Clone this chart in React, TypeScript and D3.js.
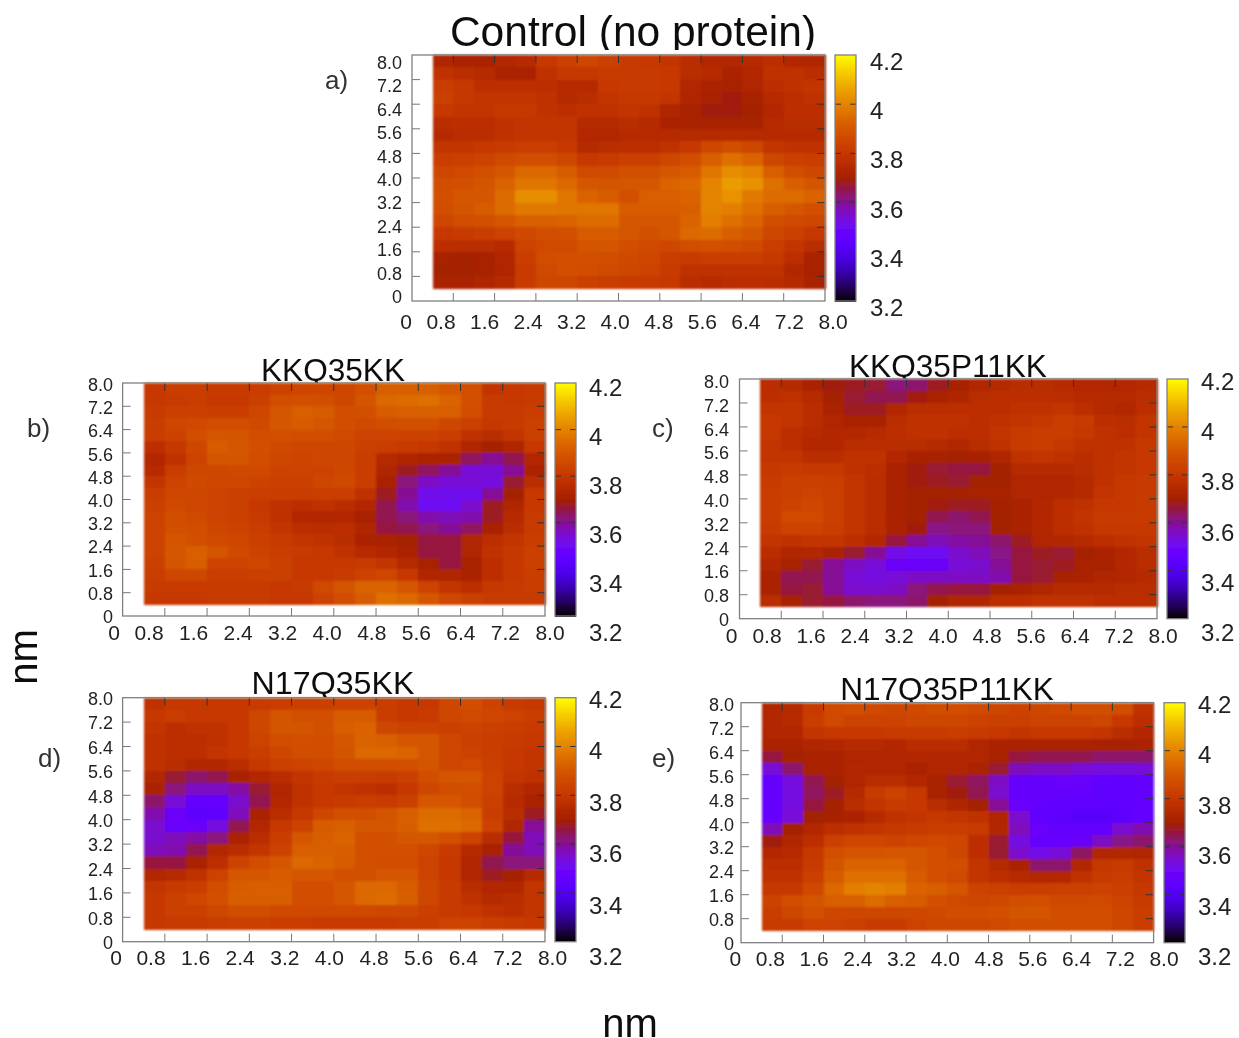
import React from "react";
import * as d3 from "d3";

// distance maps, rows run top (8.0 nm) to bottom (0.4 nm), columns 0.4 to 8.0 nm
const controlGrid = [
  [3.73,3.72,3.72,3.74,3.75,3.80,3.83,3.85,3.83,3.81,3.80,3.79,3.76,3.74,3.74,3.75,3.77,3.74,3.73],
  [3.78,3.76,3.75,3.72,3.72,3.78,3.80,3.80,3.81,3.81,3.81,3.80,3.76,3.75,3.72,3.74,3.78,3.78,3.76],
  [3.82,3.80,3.77,3.77,3.77,3.77,3.75,3.75,3.80,3.81,3.81,3.80,3.74,3.72,3.71,3.73,3.77,3.78,3.79],
  [3.83,3.80,3.79,3.79,3.79,3.78,3.75,3.76,3.79,3.80,3.80,3.79,3.73,3.71,3.69,3.71,3.75,3.77,3.78],
  [3.80,3.79,3.79,3.80,3.80,3.78,3.77,3.78,3.78,3.79,3.78,3.73,3.71,3.69,3.69,3.70,3.74,3.77,3.77],
  [3.76,3.77,3.77,3.78,3.79,3.79,3.79,3.75,3.75,3.76,3.75,3.72,3.71,3.71,3.71,3.71,3.75,3.76,3.76],
  [3.75,3.76,3.76,3.78,3.79,3.79,3.79,3.74,3.74,3.75,3.75,3.75,3.75,3.75,3.75,3.75,3.75,3.75,3.75],
  [3.79,3.79,3.80,3.81,3.82,3.82,3.80,3.75,3.76,3.77,3.77,3.78,3.80,3.85,3.87,3.85,3.79,3.78,3.78],
  [3.82,3.83,3.84,3.86,3.87,3.87,3.85,3.80,3.81,3.83,3.83,3.85,3.87,3.92,3.96,3.93,3.85,3.83,3.82],
  [3.85,3.86,3.88,3.90,3.94,3.94,3.91,3.86,3.86,3.88,3.88,3.90,3.91,3.97,4.02,4.00,3.92,3.87,3.85],
  [3.87,3.88,3.89,3.93,3.97,3.97,3.94,3.90,3.89,3.90,3.90,3.93,3.94,4.00,4.05,4.03,3.96,3.92,3.89],
  [3.88,3.90,3.90,3.95,4.02,4.02,3.97,3.93,3.91,3.88,3.92,3.92,3.93,4.00,4.03,3.98,3.95,3.95,3.93],
  [3.87,3.89,3.91,3.95,3.98,3.98,3.97,3.97,3.97,3.91,3.91,3.91,3.92,4.00,3.99,3.96,3.92,3.90,3.88],
  [3.85,3.87,3.88,3.90,3.92,3.92,3.93,3.95,3.95,3.90,3.90,3.90,3.93,3.99,3.96,3.93,3.87,3.86,3.85],
  [3.80,3.81,3.82,3.84,3.86,3.87,3.88,3.91,3.91,3.90,3.88,3.90,3.94,3.95,3.92,3.90,3.85,3.83,3.80],
  [3.77,3.76,3.76,3.75,3.84,3.86,3.86,3.89,3.89,3.87,3.86,3.85,3.87,3.88,3.87,3.86,3.82,3.79,3.76],
  [3.71,3.70,3.71,3.74,3.82,3.87,3.88,3.88,3.87,3.86,3.85,3.82,3.81,3.82,3.82,3.82,3.80,3.77,3.72],
  [3.70,3.70,3.71,3.73,3.81,3.86,3.88,3.87,3.86,3.85,3.84,3.81,3.78,3.78,3.78,3.78,3.78,3.74,3.71],
  [3.72,3.72,3.73,3.75,3.81,3.85,3.85,3.83,3.82,3.81,3.81,3.80,3.76,3.75,3.76,3.77,3.76,3.75,3.72],
];

const kkq35kkGrid = [
  [3.80,3.82,3.82,3.81,3.81,3.82,3.84,3.85,3.85,3.85,3.88,3.92,3.92,3.92,3.90,3.88,3.79,3.80,3.81],
  [3.80,3.81,3.82,3.80,3.80,3.83,3.87,3.88,3.87,3.85,3.89,3.94,3.95,3.96,3.93,3.88,3.81,3.80,3.81],
  [3.81,3.83,3.83,3.82,3.82,3.85,3.90,3.92,3.91,3.87,3.88,3.91,3.92,3.92,3.92,3.87,3.81,3.81,3.82],
  [3.82,3.85,3.86,3.87,3.87,3.86,3.90,3.91,3.90,3.87,3.86,3.87,3.88,3.88,3.85,3.83,3.80,3.81,3.83],
  [3.82,3.84,3.87,3.90,3.89,3.87,3.88,3.87,3.87,3.86,3.84,3.84,3.84,3.84,3.82,3.78,3.76,3.79,3.83],
  [3.77,3.80,3.85,3.91,3.90,3.88,3.86,3.85,3.85,3.85,3.83,3.82,3.81,3.80,3.78,3.73,3.70,3.73,3.80],
  [3.74,3.78,3.84,3.89,3.89,3.87,3.85,3.84,3.85,3.85,3.82,3.75,3.73,3.72,3.72,3.64,3.60,3.65,3.74],
  [3.75,3.82,3.85,3.85,3.86,3.86,3.84,3.84,3.84,3.85,3.82,3.73,3.68,3.64,3.60,3.54,3.54,3.60,3.72],
  [3.79,3.84,3.86,3.85,3.85,3.84,3.83,3.83,3.85,3.86,3.82,3.71,3.62,3.56,3.54,3.54,3.53,3.67,3.76],
  [3.82,3.85,3.85,3.84,3.83,3.82,3.82,3.82,3.82,3.82,3.78,3.68,3.60,3.51,3.51,3.51,3.60,3.70,3.80],
  [3.83,3.86,3.85,3.84,3.83,3.80,3.78,3.77,3.78,3.76,3.74,3.65,3.58,3.50,3.50,3.55,3.68,3.73,3.80],
  [3.84,3.87,3.86,3.84,3.83,3.81,3.78,3.74,3.74,3.74,3.71,3.65,3.62,3.58,3.57,3.58,3.68,3.75,3.81],
  [3.84,3.88,3.87,3.85,3.84,3.82,3.79,3.77,3.76,3.77,3.73,3.66,3.65,3.62,3.60,3.64,3.71,3.76,3.81],
  [3.84,3.89,3.88,3.86,3.85,3.83,3.81,3.79,3.78,3.76,3.72,3.72,3.70,3.66,3.66,3.73,3.77,3.79,3.82],
  [3.84,3.90,3.92,3.89,3.86,3.84,3.82,3.81,3.80,3.78,3.75,3.74,3.72,3.66,3.66,3.73,3.78,3.80,3.83],
  [3.83,3.89,3.92,3.84,3.84,3.85,3.83,3.80,3.80,3.80,3.81,3.79,3.75,3.71,3.66,3.71,3.77,3.80,3.83],
  [3.82,3.85,3.85,3.82,3.82,3.83,3.83,3.80,3.80,3.81,3.84,3.85,3.80,3.73,3.73,3.72,3.77,3.80,3.82],
  [3.81,3.81,3.81,3.81,3.81,3.81,3.80,3.81,3.86,3.89,3.93,3.93,3.90,3.84,3.79,3.77,3.80,3.81,3.82],
  [3.80,3.80,3.80,3.81,3.81,3.81,3.80,3.80,3.84,3.87,3.91,3.96,3.94,3.90,3.85,3.83,3.81,3.81,3.81],
];

const kkq35p11kkGrid = [
  [3.76,3.75,3.72,3.69,3.68,3.67,3.62,3.63,3.68,3.71,3.74,3.75,3.76,3.76,3.75,3.74,3.74,3.74,3.75],
  [3.77,3.78,3.75,3.70,3.67,3.65,3.65,3.69,3.72,3.73,3.76,3.77,3.77,3.77,3.76,3.75,3.75,3.75,3.76],
  [3.79,3.79,3.76,3.72,3.68,3.68,3.74,3.76,3.77,3.77,3.77,3.77,3.78,3.78,3.79,3.77,3.75,3.74,3.77],
  [3.80,3.79,3.76,3.73,3.71,3.71,3.76,3.78,3.78,3.78,3.77,3.78,3.79,3.80,3.82,3.81,3.77,3.76,3.79],
  [3.80,3.77,3.75,3.74,3.74,3.75,3.77,3.78,3.78,3.77,3.77,3.79,3.81,3.82,3.82,3.80,3.78,3.77,3.79],
  [3.79,3.77,3.74,3.74,3.76,3.76,3.76,3.76,3.75,3.74,3.76,3.78,3.81,3.82,3.80,3.78,3.78,3.78,3.80],
  [3.79,3.79,3.76,3.76,3.78,3.78,3.74,3.71,3.71,3.70,3.71,3.73,3.78,3.79,3.78,3.76,3.78,3.79,3.80],
  [3.80,3.81,3.80,3.80,3.78,3.77,3.72,3.69,3.67,3.66,3.66,3.70,3.75,3.75,3.75,3.76,3.78,3.79,3.80],
  [3.81,3.83,3.83,3.82,3.79,3.76,3.71,3.69,3.68,3.67,3.70,3.70,3.73,3.73,3.73,3.75,3.78,3.80,3.81],
  [3.82,3.83,3.84,3.83,3.79,3.76,3.71,3.70,3.70,3.70,3.71,3.71,3.73,3.73,3.74,3.75,3.79,3.80,3.81],
  [3.82,3.84,3.85,3.83,3.79,3.76,3.71,3.70,3.69,3.68,3.68,3.70,3.72,3.74,3.77,3.78,3.80,3.80,3.81],
  [3.82,3.86,3.86,3.83,3.79,3.76,3.72,3.70,3.65,3.63,3.65,3.70,3.72,3.74,3.77,3.79,3.81,3.81,3.81],
  [3.81,3.84,3.84,3.82,3.79,3.76,3.72,3.69,3.61,3.62,3.62,3.70,3.72,3.74,3.77,3.78,3.80,3.80,3.80],
  [3.79,3.78,3.79,3.79,3.77,3.74,3.66,3.60,3.57,3.59,3.60,3.63,3.68,3.73,3.74,3.75,3.77,3.78,3.79],
  [3.76,3.73,3.74,3.72,3.67,3.60,3.52,3.50,3.50,3.55,3.57,3.61,3.66,3.68,3.67,3.70,3.72,3.74,3.76],
  [3.74,3.71,3.67,3.60,3.56,3.54,3.49,3.48,3.49,3.54,3.55,3.60,3.66,3.67,3.68,3.71,3.71,3.74,3.76],
  [3.72,3.65,3.65,3.60,3.54,3.53,3.54,3.56,3.56,3.56,3.56,3.58,3.66,3.67,3.71,3.72,3.73,3.74,3.75],
  [3.72,3.66,3.67,3.60,3.55,3.55,3.56,3.62,3.65,3.66,3.66,3.70,3.72,3.73,3.75,3.75,3.75,3.76,3.76],
  [3.76,3.71,3.67,3.66,3.63,3.62,3.62,3.63,3.70,3.73,3.73,3.77,3.77,3.78,3.78,3.78,3.77,3.77,3.77],
];

const n17q35kkGrid = [
  [3.78,3.80,3.80,3.80,3.80,3.81,3.82,3.83,3.83,3.84,3.84,3.82,3.80,3.80,3.85,3.87,3.84,3.81,3.80],
  [3.80,3.82,3.80,3.80,3.80,3.85,3.89,3.88,3.88,3.91,3.91,3.82,3.80,3.81,3.85,3.86,3.85,3.84,3.82],
  [3.79,3.77,3.78,3.78,3.80,3.85,3.89,3.89,3.88,3.92,3.93,3.85,3.84,3.84,3.83,3.84,3.83,3.82,3.81],
  [3.78,3.77,3.77,3.78,3.80,3.84,3.87,3.88,3.87,3.90,3.93,3.92,3.90,3.90,3.85,3.83,3.82,3.81,3.80],
  [3.78,3.77,3.77,3.79,3.80,3.82,3.85,3.87,3.87,3.89,3.94,3.94,3.93,3.90,3.85,3.84,3.82,3.80,3.79],
  [3.78,3.76,3.74,3.74,3.76,3.80,3.83,3.84,3.85,3.87,3.87,3.87,3.88,3.89,3.85,3.86,3.83,3.80,3.79],
  [3.74,3.67,3.63,3.65,3.71,3.74,3.76,3.79,3.81,3.82,3.82,3.81,3.83,3.87,3.89,3.89,3.84,3.79,3.78],
  [3.72,3.62,3.56,3.56,3.59,3.67,3.73,3.78,3.80,3.79,3.78,3.77,3.80,3.85,3.87,3.88,3.84,3.76,3.73],
  [3.63,3.54,3.46,3.46,3.55,3.65,3.74,3.78,3.80,3.81,3.82,3.81,3.83,3.90,3.90,3.87,3.83,3.75,3.72],
  [3.58,3.49,3.44,3.45,3.57,3.72,3.76,3.80,3.85,3.88,3.87,3.89,3.92,3.95,3.95,3.93,3.82,3.76,3.68],
  [3.55,3.48,3.48,3.53,3.65,3.74,3.80,3.84,3.91,3.92,3.90,3.90,3.92,3.96,3.96,3.94,3.84,3.73,3.60],
  [3.55,3.57,3.59,3.62,3.72,3.76,3.82,3.90,3.92,3.93,3.88,3.88,3.90,3.90,3.88,3.84,3.76,3.66,3.57],
  [3.57,3.58,3.65,3.74,3.76,3.79,3.84,3.92,3.92,3.92,3.88,3.88,3.88,3.85,3.81,3.75,3.71,3.60,3.57],
  [3.66,3.66,3.72,3.77,3.84,3.87,3.90,3.94,3.93,3.91,3.88,3.87,3.87,3.84,3.80,3.73,3.65,3.62,3.62],
  [3.74,3.75,3.78,3.84,3.90,3.90,3.91,3.90,3.90,3.88,3.88,3.90,3.90,3.84,3.80,3.73,3.68,3.70,3.75],
  [3.79,3.81,3.82,3.87,3.91,3.92,3.92,3.87,3.87,3.90,3.94,3.94,3.91,3.85,3.81,3.76,3.74,3.74,3.79],
  [3.80,3.83,3.85,3.88,3.92,3.92,3.92,3.87,3.87,3.90,3.94,3.95,3.92,3.85,3.81,3.78,3.75,3.76,3.79],
  [3.80,3.83,3.83,3.85,3.87,3.87,3.86,3.86,3.86,3.86,3.86,3.85,3.85,3.83,3.81,3.80,3.78,3.77,3.79],
  [3.80,3.81,3.81,3.82,3.83,3.83,3.82,3.82,3.81,3.81,3.81,3.81,3.82,3.82,3.84,3.84,3.82,3.81,3.80],
];

const n17q35p11kkGrid = [
  [3.74,3.75,3.81,3.86,3.87,3.86,3.85,3.86,3.87,3.87,3.86,3.85,3.84,3.85,3.86,3.87,3.87,3.87,3.78],
  [3.74,3.75,3.82,3.86,3.84,3.84,3.84,3.85,3.85,3.85,3.84,3.83,3.83,3.84,3.84,3.84,3.85,3.80,3.77],
  [3.73,3.74,3.79,3.80,3.80,3.80,3.81,3.81,3.81,3.82,3.81,3.80,3.79,3.80,3.80,3.80,3.79,3.76,3.74],
  [3.72,3.72,3.73,3.74,3.75,3.75,3.74,3.76,3.76,3.76,3.73,3.72,3.72,3.72,3.72,3.72,3.71,3.71,3.72],
  [3.66,3.70,3.72,3.72,3.73,3.73,3.74,3.74,3.74,3.74,3.73,3.71,3.66,3.65,3.65,3.65,3.63,3.63,3.63],
  [3.54,3.63,3.71,3.72,3.74,3.73,3.73,3.72,3.73,3.73,3.72,3.67,3.57,3.56,3.56,3.54,3.53,3.53,3.54],
  [3.47,3.53,3.65,3.70,3.73,3.76,3.76,3.74,3.71,3.67,3.64,3.56,3.47,3.47,3.48,3.48,3.46,3.45,3.46],
  [3.47,3.53,3.64,3.68,3.75,3.81,3.84,3.80,3.71,3.69,3.65,3.55,3.47,3.47,3.47,3.46,3.45,3.45,3.46],
  [3.47,3.53,3.66,3.70,3.76,3.79,3.81,3.80,3.76,3.73,3.70,3.60,3.48,3.46,3.45,3.45,3.45,3.45,3.46],
  [3.47,3.54,3.70,3.71,3.72,3.75,3.78,3.79,3.80,3.79,3.78,3.73,3.55,3.45,3.44,3.42,3.42,3.44,3.46],
  [3.57,3.70,3.74,3.77,3.78,3.79,3.80,3.81,3.82,3.82,3.81,3.74,3.57,3.48,3.46,3.46,3.46,3.55,3.58],
  [3.69,3.73,3.77,3.83,3.85,3.85,3.84,3.85,3.86,3.85,3.77,3.67,3.53,3.47,3.47,3.49,3.56,3.61,3.63],
  [3.74,3.75,3.80,3.88,3.89,3.89,3.90,3.90,3.88,3.85,3.77,3.67,3.55,3.52,3.54,3.64,3.74,3.74,3.73],
  [3.77,3.77,3.81,3.89,3.93,3.93,3.93,3.90,3.88,3.87,3.79,3.75,3.72,3.63,3.63,3.74,3.80,3.81,3.78],
  [3.78,3.78,3.83,3.91,3.96,3.96,3.96,3.91,3.88,3.86,3.79,3.77,3.75,3.74,3.74,3.78,3.81,3.82,3.79],
  [3.80,3.80,3.86,3.94,3.99,4.00,3.99,3.93,3.92,3.89,3.84,3.83,3.82,3.82,3.83,3.83,3.84,3.83,3.80],
  [3.84,3.87,3.89,3.92,3.92,3.95,3.92,3.91,3.88,3.86,3.85,3.86,3.87,3.88,3.86,3.86,3.86,3.84,3.81],
  [3.82,3.85,3.88,3.85,3.85,3.85,3.85,3.85,3.86,3.87,3.87,3.88,3.89,3.89,3.87,3.87,3.87,3.85,3.82],
  [3.81,3.81,3.84,3.84,3.83,3.81,3.81,3.84,3.85,3.85,3.85,3.86,3.87,3.87,3.87,3.87,3.87,3.85,3.82],
];

const axisTicks = ["0", "0.8", "1.6", "2.4", "3.2", "4.0", "4.8", "5.6", "6.4", "7.2", "8.0"];
const colorTicks = ["3.2", "3.4", "3.6", "3.8", "4", "4.2"];

// the labels were pasted on by hand in the figure, so they have their own ranges
const panels = [
  { tag: "a)", tagX: 325, tagY: 89, title: "Control (no protein)", titleX: 633, titleY: 46, titleSize: 42.5, titleCut: 50, grid: controlGrid,
    left: 412, right: 825, top: 55, bottom: 301, barX: 835, labelZero: 406, label08: 441, label80: 833, labelY: 329,
    yLabelX: 402, yLabel0: 303, yLabel8: 69, barLabelX: 870, barLabel32: 316, barLabel42: 70 },
  { tag: "b)", tagX: 27, tagY: 437, title: "KKQ35KK", titleX: 333, titleY: 381, titleSize: 31.6, titleCut: 383, grid: kkq35kkGrid,
    left: 122.6, right: 545, top: 383, bottom: 616, barX: 555, labelZero: 114, label08: 149, label80: 550, labelY: 640,
    yLabelX: 113, yLabel0: 623, yLabel8: 391, barLabelX: 589, barLabel32: 641, barLabel42: 396 },
  { tag: "c)", tagX: 652, tagY: 437, title: "KKQ35P11KK", titleX: 948, titleY: 377, titleSize: 31.6, titleCut: 379, grid: kkq35p11kkGrid,
    left: 739.5, right: 1157, top: 379, bottom: 618.7, barX: 1167, labelZero: 731.6, label08: 767, label80: 1163, labelY: 643,
    yLabelX: 729, yLabel0: 626, yLabel8: 388, barLabelX: 1201, barLabel32: 641, barLabel42: 390 },
  { tag: "d)", tagX: 38, tagY: 767, title: "N17Q35KK", titleX: 333, titleY: 694, titleSize: 32.2, titleCut: 698, grid: n17q35kkGrid,
    left: 122.6, right: 545, top: 697.7, bottom: 941.7, barX: 555, labelZero: 116, label08: 151, label80: 552.5, labelY: 965,
    yLabelX: 113, yLabel0: 949, yLabel8: 705, barLabelX: 589, barLabel32: 965, barLabel42: 708 },
  { tag: "e)", tagX: 652, tagY: 767, title: "N17Q35P11KK", titleX: 947, titleY: 700, titleSize: 31.6, titleCut: 703, grid: n17q35p11kkGrid,
    left: 741, right: 1153.6, top: 702.7, bottom: 942.7, barX: 1164, labelZero: 735.4, label08: 770.4, label80: 1164, labelY: 966,
    yLabelX: 734, yLabel0: 950, yLabel8: 711, barLabelX: 1198, barLabel32: 965, barLabel42: 713 },
];

const font = "'Liberation Sans', Arial, sans-serif";

// gnuplot's default pm3d palette (rgbformulae 7,5,15), red pulled down
// in the lower half because the scanned figure has it darker there
const redPower = d3.scaleLinear().domain([0.45, 0.6]).range([0.7, 0.5]).clamp(true);
const pm3d = (t: number) =>
  d3.rgb(
    255 * Math.pow(t, redPower(t)),
    255 * t * t * t,
    255 * Math.max(0, Math.sin(2 * Math.PI * t))
  ).formatRgb();
const color = d3.scaleSequential(pm3d).domain([3.2, 4.2]);

function Panel({ p }: { p: (typeof panels)[number] }) {
  const x = d3.scaleLinear().domain([0, 8]).range([p.left, p.right]);
  const y = d3.scaleLinear().domain([0, 8]).range([p.bottom, p.top]);
  const labelX = d3.scaleLinear().domain([0.8, 8]).range([p.label08, p.label80]);
  const labelY = d3.scaleLinear().domain([0, 8]).range([p.yLabel0, p.yLabel8]);
  const bar = d3.scaleLinear().domain([3.2, 4.2]).range([p.bottom, p.top]);
  const barLabel = d3.scaleLinear().domain([3.2, 4.2]).range([p.barLabel32, p.barLabel42]);
  const barSteps = d3.range(3.2, 4.2, 0.004);
  const barWidth = 21;
  const inner = axisTicks.map(Number).filter(v => v > 0 && v < 8);

  return (
    <g fontFamily={font}>
      <text x={p.titleX} y={p.titleY} fontSize={p.titleSize} textAnchor="middle" fill="#111">{p.title}</text>
      <rect x={p.left} y={p.titleCut} width={p.right - p.left} height={p.top - p.titleCut} fill="#fff" />
      <text x={p.tagX} y={p.tagY} fontSize={26} fill="#333">{p.tag}</text>

      <rect x={p.left} y={p.top} width={p.right - p.left} height={p.bottom - p.top} fill="#fff" />
      <g shapeRendering="crispEdges" filter="url(#cells)">
        {p.grid.map((row, r) =>
          row.map((v, c) => (
            <rect
              key={r + "-" + c}
              x={x(0.4 + c * 0.4)}
              y={y(8 - r * 0.4)}
              width={x(0.8) - x(0.4) + 0.5}
              height={y(0) - y(0.4) + 0.5}
              fill={color(v)}
            />
          ))
        )}
      </g>

      {inner.map(v => (
        <g key={v} stroke="#333" strokeWidth={1}>
          <line x1={x(v)} x2={x(v)} y1={p.bottom} y2={p.bottom - 8} stroke="#777" />
          <line x1={x(v)} x2={x(v)} y1={p.top} y2={p.top + 8} />
          <line x1={p.left} x2={p.left + 8} y1={y(v)} y2={y(v)} stroke="#777" />
          <line x1={p.right} x2={p.right - 8} y1={y(v)} y2={y(v)} />
        </g>
      ))}
      <rect x={p.left} y={p.top} width={p.right - p.left} height={p.bottom - p.top} fill="none" stroke="#808080" strokeWidth={1.3} />

      {axisTicks.map(t => (
        <text key={t} x={t === "0" ? p.labelZero : labelX(+t)} y={p.labelY} fontSize={21} textAnchor="middle" fill="#222">{t}</text>
      ))}
      {axisTicks.map(t => (
        <text key={t} x={p.yLabelX} y={labelY(+t)} fontSize={18} textAnchor="end" fill="#222">{t}</text>
      ))}

      <g shapeRendering="crispEdges">
        {barSteps.map(v => (
          <rect key={v} x={p.barX} y={bar(v + 0.004)} width={barWidth} height={bar(v) - bar(v + 0.004) + 0.5} fill={color(v)} />
        ))}
      </g>
      {[3.4, 3.6, 3.8, 4.0].map(v => (
        <g key={v} stroke="#333" strokeWidth={1}>
          <line x1={p.barX} x2={p.barX + 6} y1={bar(v)} y2={bar(v)} />
          <line x1={p.barX + barWidth - 6} x2={p.barX + barWidth} y1={bar(v)} y2={bar(v)} />
        </g>
      ))}
      <rect x={p.barX} y={p.top} width={barWidth} height={p.bottom - p.top} fill="none" stroke="#808080" strokeWidth={1.3} />
      {colorTicks.map(t => (
        <text key={t} x={p.barLabelX} y={barLabel(+t)} fontSize={24} fill="#222">{t}</text>
      ))}
    </g>
  );
}

export default function App() {
  return (
    <svg width={1239} height={1038} style={{ position: "absolute", left: 0, top: 0, background: "#fff" }}>
      <defs>
        <filter id="soft" x="0" y="0" width="100%" height="100%">
          <feGaussianBlur stdDeviation={0.5} />
        </filter>
        <filter id="cells" x="-2%" y="-2%" width="104%" height="104%">
          <feGaussianBlur stdDeviation={0.9} />
        </filter>
      </defs>
      <g filter="url(#soft)">
        <rect width={1239} height={1038} fill="#fff" />
        {panels.map(p => <Panel key={p.tag} p={p} />)}
        <text x={630} y={1037} fontFamily={font} fontSize={40} textAnchor="middle" fill="#111">nm</text>
        <text transform="translate(37,657) rotate(-90)" fontFamily={font} fontSize={40} textAnchor="middle" fill="#111">nm</text>
      </g>
    </svg>
  );
}
